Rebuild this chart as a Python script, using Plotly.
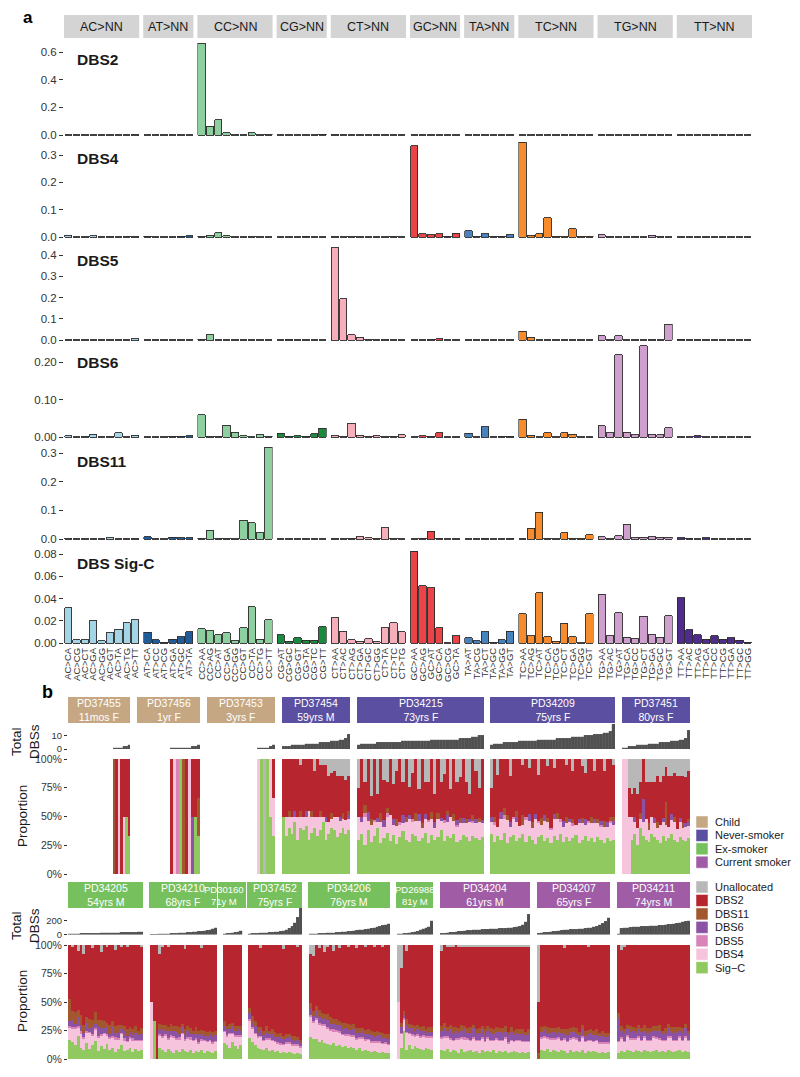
import plotly.graph_objects as go

FONT = "Liberation Sans, Arial, Helvetica, sans-serif"
# the page body has an 8px default margin; the figure is sized to fit the 800x1077 window
PAGE_MARGIN = 8
W, H = 800 - PAGE_MARGIN, 1077 - PAGE_MARGIN

# ======================= PANEL A DATA =======================
channel_groups = ["AC>NN", "AT>NN", "CC>NN", "CG>NN", "CT>NN", "GC>NN", "TA>NN", "TC>NN", "TG>NN", "TT>NN"]
channel_group_colors = ["#A3D5E6", "#1F5C99", "#8DCF9E", "#1A8A3F", "#F6AEBB",
                        "#EC4346", "#4784BF", "#F88B2B", "#CF9FCD", "#4F2B8B"]
channels = [
    "AC>CA", "AC>CG", "AC>CT", "AC>GA", "AC>GG", "AC>GT", "AC>TA", "AC>TG", "AC>TT",
    "AT>CA", "AT>CC", "AT>CG", "AT>GA", "AT>GC", "AT>TA",
    "CC>AA", "CC>AG", "CC>AT", "CC>GA", "CC>GG", "CC>GT", "CC>TA", "CC>TG", "CC>TT",
    "CG>AT", "CG>GC", "CG>GT", "CG>TA", "CG>TC", "CG>TT",
    "CT>AA", "CT>AC", "CT>AG", "CT>GA", "CT>GC", "CT>GG", "CT>TA", "CT>TC", "CT>TG",
    "GC>AA", "GC>AG", "GC>AT", "GC>CA", "GC>CG", "GC>TA",
    "TA>AT", "TA>CG", "TA>CT", "TA>GC", "TA>GG", "TA>GT",
    "TC>AA", "TC>AG", "TC>AT", "TC>CA", "TC>CG", "TC>CT", "TC>GA", "TC>GG", "TC>GT",
    "TG>AA", "TG>AC", "TG>AT", "TG>CA", "TG>CC", "TG>CT", "TG>GA", "TG>GC", "TG>GT",
    "TT>AA", "TT>AC", "TT>AG", "TT>CA", "TT>CC", "TT>CG", "TT>GA", "TT>GC", "TT>GG",
]

sig_DBS2 = [
    0.002, 0.001, 0.002, 0.002, 0.001, 0.002, 0.002, 0.001, 0.006,
    0.001, 0.001, 0.001, 0.001, 0.001, 0.002,
    0.665, 0.065, 0.109, 0.017, 0.002, 0.003, 0.016, 0.002, 0.004,
    0.002, 0.001, 0.002, 0.001, 0.003, 0.007,
    0.004, 0.002, 0.001, 0.001, 0.002, 0.001, 0.002, 0.003, 0.001,
    0.002, 0.001, 0.001, 0.002, 0.001, 0.002,
    0.001, 0.001, 0.002, 0.001, 0.001, 0.002,
    0.003, 0.002, 0.001, 0.002, 0.001, 0.002, 0.001, 0.002, 0.002,
    0.003, 0.002, 0.002, 0.001, 0.002, 0.002, 0.002, 0.001, 0.002,
    0.002, 0.001, 0.002, 0.002, 0.001, 0.002, 0.001, 0.002, 0.002,
]
sig_DBS4 = [
    0.006, 0.001, 0.001, 0.004, 0.001, 0.002, 0.001, 0.002, 0.002,
    0.002, 0.001, 0.001, 0.001, 0.002, 0.005,
    0.002, 0.006, 0.015, 0.004, 0.001, 0.001, 0.002, 0.001, 0.001,
    0.001, 0.001, 0.001, 0.002, 0.001, 0.001,
    0.002, 0.001, 0.002, 0.001, 0.001, 0.001, 0.001, 0.002, 0.001,
    0.333, 0.012, 0.009, 0.012, 0.002, 0.014,
    0.022, 0.003, 0.012, 0.002, 0.003, 0.008,
    0.347, 0.006, 0.012, 0.070, 0.002, 0.003, 0.030, 0.002, 0.003,
    0.008, 0.002, 0.001, 0.001, 0.002, 0.001, 0.007, 0.002, 0.001,
    0.001, 0.001, 0.001, 0.001, 0.001, 0.001, 0.001, 0.001, 0.001,
]
sig_DBS5 = [
    0.002, 0.001, 0.001, 0.002, 0.001, 0.001, 0.001, 0.002, 0.007,
    0.001, 0.001, 0.001, 0.001, 0.001, 0.002,
    0.003, 0.024, 0.002, 0.001, 0.001, 0.001, 0.002, 0.001, 0.002,
    0.002, 0.004, 0.001, 0.001, 0.001, 0.002,
    0.434, 0.193, 0.024, 0.014, 0.003, 0.002, 0.003, 0.002, 0.002,
    0.001, 0.002, 0.004, 0.006, 0.001, 0.001,
    0.002, 0.001, 0.002, 0.001, 0.002, 0.002,
    0.042, 0.014, 0.002, 0.001, 0.002, 0.001, 0.002, 0.001, 0.002,
    0.019, 0.002, 0.019, 0.001, 0.001, 0.001, 0.003, 0.001, 0.075,
    0.004, 0.001, 0.001, 0.001, 0.001, 0.001, 0.001, 0.001, 0.001,
]
sig_DBS6 = [
    0.003, 0.001, 0.002, 0.008, 0.001, 0.002, 0.011, 0.001, 0.005,
    0.001, 0.001, 0.001, 0.002, 0.002, 0.004,
    0.059, 0.002, 0.002, 0.032, 0.013, 0.003, 0.001, 0.006, 0.002,
    0.010, 0.002, 0.003, 0.002, 0.009, 0.024,
    0.004, 0.002, 0.037, 0.005, 0.002, 0.003, 0.002, 0.002, 0.006,
    0.001, 0.004, 0.002, 0.011, 0.001, 0.001,
    0.010, 0.001, 0.028, 0.001, 0.002, 0.002,
    0.048, 0.005, 0.001, 0.011, 0.001, 0.011, 0.008, 0.001, 0.001,
    0.030, 0.011, 0.219, 0.013, 0.006, 0.243, 0.008, 0.006, 0.025,
    0.001, 0.001, 0.003, 0.001, 0.001, 0.001, 0.001, 0.001, 0.001,
]
sig_DBS11 = [
    0.002, 0.001, 0.001, 0.001, 0.001, 0.004, 0.001, 0.001, 0.002,
    0.008, 0.001, 0.001, 0.006, 0.004, 0.004,
    0.002, 0.030, 0.002, 0.002, 0.001, 0.065, 0.057, 0.022, 0.320,
    0.001, 0.001, 0.001, 0.001, 0.001, 0.001,
    0.003, 0.001, 0.002, 0.008, 0.005, 0.002, 0.040, 0.003, 0.001,
    0.001, 0.003, 0.027, 0.002, 0.001, 0.001,
    0.001, 0.001, 0.002, 0.001, 0.001, 0.002,
    0.001, 0.038, 0.093, 0.002, 0.001, 0.021, 0.002, 0.003, 0.015,
    0.008, 0.001, 0.012, 0.052, 0.004, 0.006, 0.008, 0.006, 0.006,
    0.004, 0.002, 0.001, 0.004, 0.001, 0.001, 0.001, 0.001, 0.001,
]
sig_SigC = [
    0.0315, 0.0030, 0.0030, 0.0204, 0.0020, 0.0093, 0.0123, 0.0180, 0.0210,
    0.0095, 0.0030, 0.0005, 0.0036, 0.0054, 0.0102,
    0.0130, 0.0110, 0.0075, 0.0090, 0.0020, 0.0135, 0.0324, 0.0035, 0.0210,
    0.0072, 0.0017, 0.0045, 0.0025, 0.0025, 0.0147,
    0.0228, 0.0105, 0.0030, 0.0015, 0.0040, 0.0010, 0.0135, 0.0180, 0.0100,
    0.0826, 0.0514, 0.0498, 0.0138, 0.0002, 0.0063,
    0.0048, 0.0020, 0.0102, 0.0005, 0.0030, 0.0105,
    0.0264, 0.0063, 0.0453, 0.0054, 0.0015, 0.0177, 0.0054, 0.0003, 0.0264,
    0.0438, 0.0066, 0.0273, 0.0050, 0.0040, 0.0240, 0.0072, 0.0050, 0.0243,
    0.0408, 0.0117, 0.0075, 0.0033, 0.0066, 0.0033, 0.0045, 0.0025, 0.0008,
]
sig_labels = ["DBS2", "DBS4", "DBS5", "DBS6", "DBS11", "DBS Sig-C"]
sig_values = [sig_DBS2, sig_DBS4, sig_DBS5, sig_DBS6, sig_DBS11, sig_SigC]
sig_tickvals = [[0, 0.2, 0.4, 0.6], [0, 0.1, 0.2, 0.3], [0, 0.1, 0.2, 0.3, 0.4],
                [0, 0.1, 0.2], [0, 0.1, 0.2, 0.3], [0, 0.02, 0.04, 0.06, 0.08]]
sig_tickfmt = ["{:.1f}", "{:.1f}", "{:.1f}", "{:.2f}", "{:.1f}", "{:.2f}"]

# ======================= PANEL B DATA =======================
comp_names = ["Unallocated", "DBS2", "DBS11", "DBS6", "DBS5", "DBS4", "Sig\u2212C"]
comp_colors = ["#B8B8B8", "#B7262E", "#A3572E", "#8C52A3", "#D983B9", "#F7C4DD", "#8FC95F"]
status_names = ["Child", "Never-smoker", "Ex-smoker", "Current smoker"]
status_colors = ["#C6A783", "#5B4FA1", "#77C05E", "#A15CA6"]

row1_donors = ["PD37455", "PD37456", "PD37453", "PD37454", "PD34215", "PD34209", "PD37451"]
row1_labels = ["11mos F", "1yr F", "3yrs F", "59yrs M", "73yrs F", "75yrs F", "80yrs F"]
row1_status = [0, 0, 0, 1, 1, 1, 1]
row2_donors = ["PD34205", "PD34210", "PD30160", "PD37452", "PD34206", "PD26988", "PD34204", "PD34207", "PD34211"]
row2_labels = ["54yrs M", "68yrs F", "71y M", "75yrs F", "76yrs M", "81y M", "61yrs M", "65yrs F", "74yrs M"]
row2_status = [2, 2, 2, 2, 2, 2, 3, 3, 3]

PD37455_total = [1, 1, 1, 1, 2, 2, 3]
PD37455_unal = [0, 0, 0, 0, 0, 0, 0]
PD37455_dbs2 = [0, 100, 0, 100, 50, 50, 67]
PD37455_dbs11 = [100, 0, 0, 0, 0, 0, 0]
PD37455_dbs6 = [0, 0, 0, 0, 0, 0, 0]
PD37455_dbs5 = [0, 0, 0, 0, 0, 0, 0]
PD37455_dbs4 = [0, 0, 100, 0, 50, 0, 0]
PD37455_sigc = [0, 0, 0, 0, 0, 50, 33]

PD37456_total = [1, 1, 1, 1, 1, 1, 1, 2, 2, 3]
PD37456_unal = [0, 0, 0, 0, 0, 0, 0, 0, 0, 0]
PD37456_dbs2 = [100, 0, 0, 0, 0, 100, 0, 50, 50, 34]
PD37456_dbs11 = [0, 0, 0, 0, 100, 0, 0, 0, 0, 33]
PD37456_dbs6 = [0, 0, 0, 0, 0, 0, 0, 50, 0, 0]
PD37456_dbs5 = [0, 0, 100, 0, 0, 0, 0, 0, 0, 0]
PD37456_dbs4 = [0, 100, 0, 0, 0, 0, 100, 0, 0, 0]
PD37456_sigc = [0, 0, 0, 100, 0, 0, 0, 0, 50, 33]

PD37453_total = [1, 1, 1, 1, 2, 3]
PD37453_unal = [0, 0, 100, 0, 0, 0]
PD37453_dbs2 = [0, 0, 0, 0, 0, 34]
PD37453_dbs11 = [0, 0, 0, 0, 0, 0]
PD37453_dbs6 = [0, 0, 0, 0, 0, 0]
PD37453_dbs5 = [0, 0, 0, 0, 0, 0]
PD37453_dbs4 = [100, 0, 0, 0, 50, 33]
PD37453_sigc = [0, 100, 0, 100, 50, 33]

PD37454_total = [2, 2, 2, 3, 3, 3, 3, 3, 4, 4, 4, 4, 4, 5, 5, 5, 5, 6, 6, 6, 7, 7, 8, 11]
PD37454_unal = [0, 0, 0, 0, 0, 0, 5, 0, 0, 0, 0, 10, 0, 5, 5, 5, 15, 12, 10, 15, 15, 15, 18, 15]
PD37454_dbs2 = [50, 50, 45, 50, 45, 50, 40, 50, 45, 45, 45, 40, 50, 40, 45, 45, 40, 35, 40, 35, 35, 32, 35, 30]
PD37454_dbs11 = [0, 0, 5, 0, 0, 0, 5, 0, 0, 0, 5, 0, 0, 5, 0, 0, 0, 5, 0, 0, 0, 5, 0, 4]
PD37454_dbs6 = [0, 0, 0, 0, 5, 0, 0, 0, 5, 0, 0, 0, 0, 0, 0, 5, 0, 0, 0, 0, 4, 0, 0, 3]
PD37454_dbs5 = [0, 0, 0, 0, 0, 0, 0, 0, 0, 0, 0, 0, 0, 0, 0, 0, 0, 0, 0, 0, 0, 0, 0, 0]
PD37454_dbs4 = [0, 17, 10, 15, 5, 20, 10, 12, 8, 25, 14, 10, 17, 12, 5, 15, 10, 8, 12, 18, 10, 8, 12, 10]
PD37454_sigc = [50, 33, 40, 35, 45, 30, 40, 38, 42, 30, 36, 40, 33, 38, 45, 30, 35, 40, 38, 32, 36, 40, 35, 38]

PD34215_total = [3, 4, 4, 4, 4, 4, 5, 5, 5, 5, 5, 5, 5, 5, 6, 6, 6, 6, 6, 6,
                 6, 6, 6, 7, 7, 7, 7, 7, 7, 7, 7, 7, 8, 8, 8, 8, 9, 9, 10, 10]
PD34215_unal = [25, 0, 20, 0, 32, 0, 30, 0, 18, 20, 0, 22, 10, 0, 20, 0, 24, 12, 0, 26,
                0, 20, 20, 0, 30, 0, 20, 13, 0, 26, 0, 20, 16, 0, 20, 30, 0, 10, 25, 0]
PD34215_dbs2 = [25, 50, 20, 46, 20, 53, 21, 47, 35, 23, 49, 30, 42, 55, 29, 50, 25, 40, 47, 22,
                56, 28, 33, 46, 25, 47, 31, 40, 45, 24, 48, 33, 35, 51, 32, 22, 49, 42, 26, 53]
PD34215_dbs11 = [0, 0, 7, 0, 5, 0, 0, 8, 0, 4, 0, 0, 6, 0, 0, 5, 0, 0, 7, 0,
                 4, 0, 0, 6, 0, 5, 0, 0, 4, 0, 6, 0, 5, 0, 4, 0, 5, 0, 4, 0]
PD34215_dbs6 = [0, 5, 0, 8, 0, 0, 4, 0, 6, 0, 0, 5, 0, 0, 7, 0, 3, 0, 0, 6,
                0, 4, 0, 0, 5, 0, 3, 0, 6, 0, 0, 4, 0, 5, 0, 3, 0, 4, 0, 3]
PD34215_dbs5 = [0, 0, 3, 0, 0, 2, 0, 0, 0, 3, 0, 0, 0, 2, 0, 0, 0, 3, 0, 0,
                0, 0, 2, 0, 0, 0, 0, 3, 0, 0, 0, 2, 0, 0, 0, 0, 2, 0, 0, 0]
PD34215_dbs4 = [20, 10, 25, 8, 15, 12, 5, 18, 10, 14, 22, 9, 16, 11, 7, 15, 20, 10, 13, 17,
                9, 12, 18, 14, 10, 16, 8, 15, 12, 19, 11, 13, 14, 10, 12, 16, 11, 13, 15, 12]
PD34215_sigc = [30, 35, 25, 38, 28, 33, 40, 27, 31, 36, 29, 34, 26, 32, 37, 30, 28, 35, 33, 29,
                31, 36, 27, 34, 30, 32, 38, 29, 33, 31, 35, 28, 30, 34, 32, 29, 33, 31, 30, 32]

PD34209_total = [3, 4, 4, 4, 5, 5, 5, 5, 5, 6, 6, 6, 6, 6, 6, 7, 7, 7, 7, 7,
                 7, 8, 8, 8, 8, 8, 9, 9, 9, 9, 10, 10, 10, 11, 11, 11, 12, 12, 13, 19]
PD34209_unal = [25, 0, 14, 0, 0, 0, 15, 0, 0, 0, 5, 0, 8, 0, 0, 14, 0, 0, 6, 0,
                8, 0, 0, 0, 5, 0, 10, 0, 0, 6, 12, 0, 0, 10, 0, 0, 10, 0, 0, 5]
PD34209_dbs2 = [25, 50, 45, 46, 43, 49, 40, 50, 45, 58, 44, 50, 40, 55, 48, 40, 51, 49, 45, 60,
                40, 47, 52, 54, 45, 52, 42, 57, 52, 45, 40, 54, 50, 42, 52, 54, 44, 55, 50, 45]
PD34209_dbs11 = [0, 5, 0, 0, 6, 4, 0, 0, 5, 0, 8, 0, 0, 5, 0, 0, 6, 0, 4, 0,
                 0, 5, 0, 0, 6, 0, 4, 0, 0, 5, 0, 0, 6, 0, 4, 0, 5, 0, 4, 4]
PD34209_dbs6 = [5, 0, 0, 6, 0, 0, 4, 0, 5, 0, 0, 0, 6, 0, 4, 0, 0, 5, 0, 0,
                4, 0, 0, 5, 0, 3, 0, 0, 4, 0, 5, 0, 0, 4, 0, 3, 0, 4, 0, 3]
PD34209_dbs5 = [0, 2, 0, 0, 3, 0, 0, 2, 0, 0, 0, 3, 0, 0, 0, 2, 0, 0, 0, 2,
                0, 0, 3, 0, 0, 0, 2, 0, 0, 0, 0, 2, 0, 0, 0, 2, 0, 0, 2, 0]
PD34209_dbs4 = [10, 15, 8, 18, 12, 20, 9, 14, 16, 11, 8, 19, 13, 10, 22, 12, 9, 17, 14, 11,
                15, 18, 10, 13, 12, 16, 11, 9, 17, 14, 10, 15, 13, 16, 12, 11, 14, 10, 15, 13]
PD34209_sigc = [35, 28, 33, 30, 36, 27, 32, 34, 29, 31, 35, 28, 33, 30, 26, 32, 34, 29, 31, 27,
                33, 30, 35, 28, 32, 29, 31, 34, 27, 30, 33, 29, 31, 28, 32, 30, 27, 31, 29, 30]

PD37451_total = [1, 1, 2, 2, 2, 3, 3, 3, 3, 4, 4, 4, 4, 5, 5, 5, 5, 6, 6, 6, 7, 7, 8, 14]
PD37451_unal = [0, 0, 25, 30, 25, 30, 20, 0, 20, 20, 20, 20, 15, 20, 15, 7, 15, 15, 12, 15, 15, 15, 16, 10]
PD37451_dbs2 = [0, 0, 25, 20, 25, 30, 27, 35, 32, 36, 30, 31, 40, 37, 36, 30, 44, 33, 38, 46, 36, 41, 40, 42]
PD37451_dbs11 = [0, 0, 0, 0, 0, 0, 5, 0, 0, 6, 0, 0, 5, 0, 0, 20, 0, 0, 5, 0, 0, 4, 0, 3]
PD37451_dbs6 = [0, 0, 0, 0, 5, 0, 0, 20, 0, 0, 0, 5, 0, 0, 4, 0, 0, 5, 0, 0, 4, 0, 3, 3]
PD37451_dbs5 = [0, 0, 0, 0, 0, 0, 0, 0, 0, 0, 0, 0, 0, 0, 0, 0, 0, 0, 0, 0, 0, 0, 0, 0]
PD37451_dbs4 = [100, 100, 50, 20, 10, 15, 8, 12, 18, 10, 15, 12, 10, 16, 12, 14, 10, 12, 15, 11, 13, 10, 12, 11]
PD37451_sigc = [0, 0, 0, 30, 35, 25, 40, 33, 30, 28, 35, 32, 30, 27, 33, 29, 31, 35, 30, 28, 32, 30, 29, 31]

PD34205_total = [10, 12, 13, 14, 15, 16, 17, 18, 19, 20, 21, 22, 23, 24, 25, 26, 27, 28, 29, 30, 31, 32, 33, 35, 38, 42]
PD34205_unal = [0, 2, 0, 5, 0, 8, 0, 0, 3, 0, 0, 6, 0, 2, 0, 0, 4, 0, 1, 0, 1, 0, 0, 0, 0, 1]
PD34205_dbs2 = [47, 56, 59, 52, 61, 62, 63, 65, 63, 59, 66, 60, 67, 66, 70, 67, 67, 70, 69, 70, 73, 72, 74, 71, 75, 72]
PD34205_dbs11 = [20, 8, 10, 6, 9, 7, 5, 8, 6, 10, 5, 7, 6, 4, 8, 5, 6, 7, 4, 5, 6, 4, 5, 6, 4, 5]
PD34205_dbs6 = [4, 6, 3, 8, 5, 4, 7, 3, 6, 4, 9, 5, 4, 6, 3, 8, 4, 5, 3, 6, 4, 5, 3, 6, 4, 5]
PD34205_dbs5 = [2, 1, 2, 1, 3, 1, 2, 1, 2, 1, 1, 2, 1, 2, 1, 1, 2, 1, 1, 2, 1, 1, 2, 1, 1, 1]
PD34205_dbs4 = [10, 12, 14, 8, 12, 10, 9, 14, 8, 10, 12, 9, 13, 7, 10, 9, 11, 8, 10, 9, 7, 8, 10, 7, 9, 8]
PD34205_sigc = [17, 15, 12, 20, 10, 8, 14, 9, 12, 16, 7, 11, 9, 13, 8, 10, 6, 9, 12, 7, 8, 10, 6, 9, 7, 8]

PD34210_total = [2, 3, 5, 8, 10, 12, 14, 16, 18, 20, 22, 25, 28, 30, 33, 36, 40, 45, 50, 55, 62, 70, 80, 100]
PD34210_unal = [0, 0, 0, 8, 2, 0, 2, 0, 0, 0, 0, 0, 4, 0, 0, 0, 0, 0, 3, 0, 0, 0, 0, 0]
PD34210_dbs2 = [50, 67, 100, 65, 68, 70, 70, 69, 71, 71, 72, 69, 73, 71, 73, 75, 72, 75, 74, 75, 76, 75, 76, 75]
PD34210_dbs11 = [0, 0, 0, 6, 4, 5, 3, 6, 4, 5, 6, 3, 5, 4, 5, 3, 6, 4, 3, 5, 4, 3, 5, 4]
PD34210_dbs6 = [0, 0, 0, 4, 6, 3, 7, 4, 5, 6, 3, 5, 4, 6, 3, 5, 4, 6, 5, 3, 4, 5, 4, 5]
PD34210_dbs5 = [0, 0, 0, 1, 2, 1, 1, 2, 1, 1, 2, 1, 1, 1, 2, 1, 1, 1, 1, 1, 1, 1, 1, 1]
PD34210_dbs4 = [50, 0, 0, 12, 10, 15, 8, 12, 14, 9, 11, 13, 10, 12, 9, 11, 10, 8, 9, 11, 8, 10, 9, 8]
PD34210_sigc = [0, 33, 0, 10, 8, 6, 9, 7, 5, 8, 6, 9, 7, 6, 8, 5, 7, 6, 8, 5, 7, 6, 5, 7]

PD30160_total = [10, 15, 20, 25, 30, 40, 55]
PD30160_unal = [0, 0, 0, 0, 0, 0, 0]
PD30160_dbs2 = [67, 71, 69, 68, 71, 71, 71]
PD30160_dbs11 = [4, 3, 5, 3, 4, 3, 4]
PD30160_dbs6 = [4, 5, 3, 6, 4, 5, 4]
PD30160_dbs5 = [1, 1, 1, 1, 1, 1, 1]
PD30160_dbs4 = [10, 8, 12, 7, 9, 11, 8]
PD30160_sigc = [14, 12, 10, 15, 11, 9, 12]

PD37452_total = [12, 15, 18, 20, 22, 25, 28, 30, 33, 36, 40, 45, 55, 70, 90, 120, 170, 250, 380]
PD37452_unal = [0, 0, 0, 0, 3, 0, 0, 0, 0, 0, 0, 0, 4, 0, 0, 0, 0, 2, 0]
PD37452_dbs2 = [55, 62, 67, 72, 71, 75, 71, 75, 74, 76, 78, 77, 79, 78, 78, 80, 80, 80, 83]
PD37452_dbs11 = [5, 6, 4, 5, 3, 4, 5, 3, 4, 5, 3, 4, 3, 4, 3, 3, 4, 3, 3]
PD37452_dbs6 = [5, 4, 6, 3, 5, 4, 6, 4, 5, 3, 4, 5, 4, 3, 4, 4, 3, 4, 3]
PD37452_dbs5 = [2, 1, 1, 1, 1, 1, 1, 1, 1, 1, 1, 1, 1, 1, 1, 1, 1, 1, 1]
PD37452_dbs4 = [15, 12, 10, 9, 11, 8, 7, 10, 8, 9, 7, 8, 7, 9, 8, 7, 8, 7, 6]
PD37452_sigc = [18, 15, 12, 10, 9, 8, 10, 7, 8, 6, 7, 5, 6, 5, 6, 5, 4, 5, 4]

PD34206_total = [10, 12, 14, 16, 18, 20, 22, 25, 28, 30, 33, 36, 40, 45, 50, 55, 60, 65, 70, 75,
                 80, 90, 100, 110, 120, 130, 140, 155]
PD34206_unal = [8, 10, 0, 3, 0, 6, 2, 0, 5, 0, 3, 0, 0, 2, 0, 0, 3, 0, 0, 2, 0, 0, 1, 0, 0, 1, 0, 0]
PD34206_dbs2 = [44, 50, 51, 53, 57, 55, 57, 60, 60, 62, 62, 65, 66, 65, 67, 66, 68, 69, 69, 70,
                71, 72, 73, 72, 73, 74, 75, 75]
PD34206_dbs11 = [6, 5, 4, 6, 5, 4, 5, 6, 4, 5, 4, 5, 4, 5, 4, 4, 5, 4, 3, 4, 4, 3, 4, 4, 3, 4, 3, 4]
PD34206_dbs6 = [5, 4, 6, 5, 4, 5, 6, 4, 5, 4, 5, 4, 5, 4, 4, 5, 4, 4, 5, 4, 4, 5, 4, 4, 5, 4, 4, 4]
PD34206_dbs5 = [2, 2, 1, 2, 1, 2, 1, 1, 2, 1, 1, 1, 1, 1, 1, 1, 1, 1, 1, 1, 1, 1, 1, 1, 1, 1, 1, 1]
PD34206_dbs4 = [18, 15, 16, 14, 12, 15, 13, 12, 10, 12, 11, 10, 9, 11, 9, 10, 9, 8, 10, 8, 9, 8, 7, 8, 9, 7, 8, 7]
PD34206_sigc = [20, 18, 17, 15, 16, 14, 13, 12, 14, 11, 12, 10, 11, 9, 10, 9, 8, 9, 7, 8, 7, 6, 7, 6, 5, 6, 5, 5]

PD26988_total = [8, 10, 15, 20, 25, 30, 40, 50, 65, 80, 95, 110, 200]
PD26988_unal = [50, 20, 0, 5, 0, 0, 0, 0, 0, 0, 0, 0, 0]
PD26988_dbs2 = [0, 48, 58, 60, 69, 70, 71, 70, 72, 71, 74, 72, 73]
PD26988_dbs11 = [0, 4, 3, 5, 4, 3, 5, 4, 3, 4, 3, 4, 4]
PD26988_dbs6 = [0, 5, 3, 6, 4, 5, 3, 4, 5, 4, 3, 4, 4]
PD26988_dbs5 = [0, 1, 1, 1, 1, 1, 1, 1, 1, 1, 1, 1, 1]
PD26988_dbs4 = [50, 12, 10, 15, 10, 12, 9, 11, 10, 12, 9, 10, 11]
PD26988_sigc = [0, 10, 25, 8, 12, 9, 11, 10, 9, 8, 10, 9, 8]

PD34204_total = [15, 20, 25, 30, 35, 40, 45, 50, 55, 60, 62, 65, 68, 70, 72, 75, 78, 80, 82, 85,
                 88, 90, 92, 95, 100, 105, 110, 120, 140, 180, 290]
PD34204_unal = [5, 0, 2, 2, 2, 0, 2, 2, 2, 2, 1, 2, 2, 2, 1, 2, 1, 1, 1, 2, 1, 1, 1, 2, 2, 1, 1, 1, 1, 1, 1]
PD34204_dbs2 = [66, 68, 70, 68, 70, 72, 71, 68, 69, 71, 71, 68, 72, 71, 70, 72, 70, 72, 73, 70,
                72, 72, 70, 74, 70, 74, 73, 73, 73, 75, 73]
PD34204_dbs11 = [4, 5, 3, 4, 5, 3, 4, 5, 3, 4, 5, 3, 4, 4, 3, 5, 4, 3, 4, 4, 3, 4, 5, 3, 4, 4, 3, 4, 4, 3, 4]
PD34204_dbs6 = [6, 7, 5, 8, 6, 7, 5, 6, 7, 5, 6, 8, 5, 6, 7, 5, 6, 7, 5, 6, 7, 6, 5, 6, 7, 5, 6, 5, 6, 5, 6]
PD34204_dbs5 = [1, 1, 2, 1, 1, 1, 1, 1, 2, 1, 1, 1, 1, 1, 1, 1, 1, 1, 1, 1, 1, 1, 1, 1, 1, 1, 1, 1, 1, 1, 1]
PD34204_dbs4 = [10, 12, 9, 11, 8, 10, 12, 9, 11, 10, 8, 12, 9, 11, 10, 9, 11, 10, 8, 12, 9, 10, 11, 9, 10, 8, 10, 11, 9, 10, 9]
PD34204_sigc = [8, 7, 9, 6, 8, 7, 5, 9, 6, 7, 8, 6, 7, 5, 8, 6, 7, 6, 8, 5, 7, 6, 7, 5, 6, 7, 6, 5, 6, 5, 6]

PD34207_total = [20, 25, 30, 35, 40, 45, 50, 55, 60, 65, 70, 72, 75, 78, 80, 85, 90, 95, 100, 110, 120, 140, 160, 190, 240]
PD34207_unal = [50, 0, 0, 0, 0, 0, 0, 0, 0, 3, 0, 0, 0, 0, 0, 0, 0, 2, 0, 0, 0, 0, 0, 0, 0]
PD34207_dbs2 = [45, 72, 71, 72, 73, 73, 73, 72, 74, 73, 74, 73, 72, 73, 76, 70, 75, 73, 74, 75, 74, 77, 75, 77, 77]
PD34207_dbs11 = [5, 4, 3, 5, 4, 3, 5, 4, 3, 4, 5, 3, 4, 5, 3, 4, 5, 4, 3, 4, 5, 3, 4, 4, 3]
PD34207_dbs6 = [0, 5, 6, 4, 5, 6, 4, 5, 6, 4, 5, 6, 5, 4, 5, 6, 4, 5, 6, 5, 4, 5, 6, 4, 5]
PD34207_dbs5 = [0, 1, 1, 1, 1, 1, 1, 1, 1, 1, 1, 1, 1, 1, 1, 1, 1, 1, 1, 1, 1, 1, 1, 1, 1]
PD34207_dbs4 = [0, 10, 12, 9, 11, 9, 10, 12, 8, 11, 10, 9, 12, 10, 9, 11, 10, 9, 10, 8, 10, 9, 8, 9, 8]
PD34207_sigc = [0, 8, 7, 9, 6, 8, 7, 6, 8, 7, 5, 8, 6, 7, 6, 8, 5, 7, 6, 7, 6, 5, 6, 5, 6]

PD34211_total = [10, 90, 95, 100, 105, 108, 110, 112, 115, 118, 120, 122, 125, 128, 130, 135, 140, 145, 150, 155,
                 160, 170, 180, 190, 200]
PD34211_unal = [0, 4, 2, 0, 0, 0, 0, 0, 0, 0, 0, 0, 0, 0, 0, 0, 0, 0, 0, 0, 0, 0, 0, 0, 0]
PD34211_dbs2 = [60, 67, 72, 70, 71, 72, 73, 70, 73, 70, 73, 73, 71, 71, 70, 75, 73, 69, 72, 72, 72, 72, 73, 69, 75]
PD34211_dbs11 = [4, 4, 3, 4, 5, 3, 4, 4, 3, 5, 4, 3, 4, 4, 5, 3, 4, 4, 3, 5, 4, 3, 4, 4, 3]
PD34211_dbs6 = [20, 6, 7, 5, 6, 7, 5, 6, 7, 5, 6, 7, 5, 6, 7, 5, 6, 7, 5, 6, 7, 5, 6, 7, 5]
PD34211_dbs5 = [1, 1, 1, 1, 1, 1, 1, 1, 1, 1, 1, 1, 1, 1, 1, 1, 1, 1, 1, 1, 1, 1, 1, 1, 1]
PD34211_dbs4 = [10, 11, 9, 12, 10, 11, 9, 12, 10, 11, 9, 10, 12, 10, 11, 9, 10, 11, 12, 10, 9, 11, 10, 12, 10]
PD34211_sigc = [5, 7, 6, 8, 7, 6, 8, 7, 6, 8, 7, 6, 7, 8, 6, 7, 6, 8, 7, 6, 7, 8, 6, 7, 6]

donor_data = {
    "PD37455": (PD37455_total, [PD37455_unal, PD37455_dbs2, PD37455_dbs11, PD37455_dbs6, PD37455_dbs5, PD37455_dbs4, PD37455_sigc]),
    "PD37456": (PD37456_total, [PD37456_unal, PD37456_dbs2, PD37456_dbs11, PD37456_dbs6, PD37456_dbs5, PD37456_dbs4, PD37456_sigc]),
    "PD37453": (PD37453_total, [PD37453_unal, PD37453_dbs2, PD37453_dbs11, PD37453_dbs6, PD37453_dbs5, PD37453_dbs4, PD37453_sigc]),
    "PD37454": (PD37454_total, [PD37454_unal, PD37454_dbs2, PD37454_dbs11, PD37454_dbs6, PD37454_dbs5, PD37454_dbs4, PD37454_sigc]),
    "PD34215": (PD34215_total, [PD34215_unal, PD34215_dbs2, PD34215_dbs11, PD34215_dbs6, PD34215_dbs5, PD34215_dbs4, PD34215_sigc]),
    "PD34209": (PD34209_total, [PD34209_unal, PD34209_dbs2, PD34209_dbs11, PD34209_dbs6, PD34209_dbs5, PD34209_dbs4, PD34209_sigc]),
    "PD37451": (PD37451_total, [PD37451_unal, PD37451_dbs2, PD37451_dbs11, PD37451_dbs6, PD37451_dbs5, PD37451_dbs4, PD37451_sigc]),
    "PD34205": (PD34205_total, [PD34205_unal, PD34205_dbs2, PD34205_dbs11, PD34205_dbs6, PD34205_dbs5, PD34205_dbs4, PD34205_sigc]),
    "PD34210": (PD34210_total, [PD34210_unal, PD34210_dbs2, PD34210_dbs11, PD34210_dbs6, PD34210_dbs5, PD34210_dbs4, PD34210_sigc]),
    "PD30160": (PD30160_total, [PD30160_unal, PD30160_dbs2, PD30160_dbs11, PD30160_dbs6, PD30160_dbs5, PD30160_dbs4, PD30160_sigc]),
    "PD37452": (PD37452_total, [PD37452_unal, PD37452_dbs2, PD37452_dbs11, PD37452_dbs6, PD37452_dbs5, PD37452_dbs4, PD37452_sigc]),
    "PD34206": (PD34206_total, [PD34206_unal, PD34206_dbs2, PD34206_dbs11, PD34206_dbs6, PD34206_dbs5, PD34206_dbs4, PD34206_sigc]),
    "PD26988": (PD26988_total, [PD26988_unal, PD26988_dbs2, PD26988_dbs11, PD26988_dbs6, PD26988_dbs5, PD26988_dbs4, PD26988_sigc]),
    "PD34204": (PD34204_total, [PD34204_unal, PD34204_dbs2, PD34204_dbs11, PD34204_dbs6, PD34204_dbs5, PD34204_dbs4, PD34204_sigc]),
    "PD34207": (PD34207_total, [PD34207_unal, PD34207_dbs2, PD34207_dbs11, PD34207_dbs6, PD34207_dbs5, PD34207_dbs4, PD34207_sigc]),
    "PD34211": (PD34211_total, [PD34211_unal, PD34211_dbs2, PD34211_dbs11, PD34211_dbs6, PD34211_dbs5, PD34211_dbs4, PD34211_sigc]),
}

# ======================= LAYOUT PARAMETERS (window pixels) =======================
row1_strip_px = [(68, 130), (137, 200), (207, 275), (282, 350), (357, 484), (490, 615), (622, 690)]
row1_bars_px = [(113, 130), (170, 200), (257, 275), (282, 350), (357, 484), (490, 615), (622, 690)]
row2_strip_px = [(68, 143), (149, 217), (218, 246), (247, 302), (308, 390), (396, 433), (440, 530), (537, 610), (617, 690)]
row2_bars_px = [(68, 143), (150, 217), (223, 242), (248, 302), (309, 390), (397, 433), (440, 530), (537, 610), (617, 690)]

# panel a rows: (top, bottom, zero_px, ref_value, ref_px, label_y)
rows_a_px = [(40, 137, 135, 0.6, 52, 60), (141, 239, 237, 0.3, 155, 159), (243, 342, 340, 0.4, 255, 260),
             (345, 439, 437, 0.2, 362, 362), (443, 541, 539, 0.3, 453, 462), (546, 645, 643, 0.08, 554, 563)]


def fx(px):
    return (px - PAGE_MARGIN) / W


def fy(py):
    return 1 - (py - PAGE_MARGIN) / H


def xid(k):
    return "x" if k == 1 else f"x{k}"


def yid(k):
    return "y" if k == 1 else f"y{k}"


def xkey(k):
    return "xaxis" if k == 1 else f"xaxis{k}"


def ykey(k):
    return "yaxis" if k == 1 else f"yaxis{k}"


fig = go.Figure()
layout = {}
shapes = []
annotations = []
TXT = "#333333"

# ---------------- Panel A ----------------
counts = [sum(1 for c in channels if c[:2] == g[:2]) for g in channel_groups]
xa0, xa1, gap = 64.0, 752.0, 4.0
unit = (xa1 - xa0 - gap * (len(channel_groups) - 1)) / sum(counts)
cur = xa0
col_domains = []
for n in counts:
    col_domains.append((cur, cur + n * unit))
    cur += n * unit + gap

for ci, g in enumerate(channel_groups):
    k = ci + 1
    cats = [c for c in channels if c[:2] == g[:2]]
    d0, d1 = col_domains[ci]
    layout[xkey(k)] = dict(
        domain=[fx(d0), fx(d1)], anchor="y6", type="category",
        categoryorder="array", categoryarray=cats, range=[-0.5, len(cats) - 0.5],
        tickmode="array", tickvals=cats, ticktext=cats, tickangle=-90,
        tickfont=dict(size=9.5, color=TXT, family=FONT), ticks="", showgrid=False,
        zeroline=False, showline=False, fixedrange=True,
    )
    shapes.append(dict(type="rect", xref=f"{xid(k)} domain", x0=0, x1=1, yref="paper",
                       y0=fy(38), y1=fy(15), fillcolor="#D4D4D4", line=dict(width=0), layer="below"))
    annotations.append(dict(xref=f"{xid(k)} domain", x=0.5, yref="paper", y=fy(26.5), text=g,
                            showarrow=False, font=dict(size=12.5, color="#1a1a1a", family=FONT),
                            xanchor="center", yanchor="middle"))

for ri, (top, bot, zpx, rv, rpx, laby) in enumerate(rows_a_px):
    k = ri + 1
    scale = (zpx - rpx) / rv
    layout[ykey(k)] = dict(
        domain=[fy(bot), fy(top)], anchor="x", range=[(zpx - bot) / scale, (zpx - top) / scale],
        tickmode="array", tickvals=sig_tickvals[ri],
        ticktext=[sig_tickfmt[ri].format(v) for v in sig_tickvals[ri]],
        ticks="outside", ticklen=4, tickwidth=1, tickcolor=TXT,
        tickfont=dict(size=11.5, color=TXT, family=FONT),
        showgrid=False, zeroline=False, showline=False, fixedrange=True,
    )
    vals = sig_values[ri]
    for ci, g in enumerate(channel_groups):
        idx = [i for i, c in enumerate(channels) if c[:2] == g[:2]]
        fig.add_trace(go.Bar(
            x=[channels[i] for i in idx], y=[vals[i] for i in idx],
            xaxis=xid(ci + 1), yaxis=yid(k),
            marker=dict(color=channel_group_colors[ci], line=dict(color="#2b2b2b", width=0.9)),
            showlegend=False, hoverinfo="skip",
        ))
    annotations.append(dict(xref="paper", yref="paper", x=fx(75), y=fy(laby), text=f"<b>{sig_labels[ri]}</b>",
                            showarrow=False, xanchor="left", yanchor="middle",
                            font=dict(size=15.5, color="#1a1a1a", family=FONT)))

# ---------------- Panel B ----------------
ax_next = len(channel_groups) + 1
panel_b_rows = [
    (row1_donors, row1_labels, row1_status, row1_strip_px, row1_bars_px, 7, 8, (697, 723)),
    (row2_donors, row2_labels, row2_status, row2_strip_px, row2_bars_px, 9, 10, (882, 908)),
]
y_specs = {
    7: dict(dom=(724, 749), rng=[0, 18.5], tv=[0, 10], tt=["0", "10"]),
    8: dict(dom=(759, 874), rng=[0, 1], tv=[0, 0.25, 0.5, 0.75, 1], tt=["0%", "25%", "50%", "75%", "100%"]),
    9: dict(dom=(908, 934.5), rng=[0, 380], tv=[0, 200], tt=["0", "200"]),
    10: dict(dom=(945, 1059), rng=[0, 1], tv=[0, 0.25, 0.5, 0.75, 1], tt=["0%", "25%", "50%", "75%", "100%"]),
}
BAR_W = 1.0

for donors, labels, status, strip_px, bars_px, ytot, yprop, (sy0, sy1) in panel_b_rows:
    first_ax = ax_next
    for gi, donor in enumerate(donors):
        k = ax_next
        ax_next += 1
        totals, comps = donor_data[donor]
        n = len(totals)
        s0, s1 = strip_px[gi]
        b0, b1 = bars_px[gi]
        w = (b1 - b0) / n
        layout[xkey(k)] = dict(
            domain=[fx(s0), fx(s1)], anchor=yid(yprop), type="linear",
            range=[-0.5 - (b0 - s0) / w, n - 0.5 + (s1 - b1) / w],
            showticklabels=False, ticks="", showgrid=False, zeroline=False, showline=False, fixedrange=True,
        )
        idx = list(range(n))
        fig.add_trace(go.Bar(x=idx, y=totals, xaxis=xid(k), yaxis=yid(ytot), width=BAR_W,
                             marker=dict(color="#505050", line=dict(color="#6a6a6a", width=0.25)),
                             showlegend=False, hoverinfo="skip"))
        sums = [sum(c[i] for c in comps) for i in range(n)]
        # stack from bottom: Sig-C, DBS4, DBS5, DBS6, DBS11, DBS2, Unallocated
        for cj in reversed(range(len(comp_names))):
            vals = [comps[cj][i] / sums[i] if sums[i] else 0 for i in range(n)]
            fig.add_trace(go.Bar(x=idx, y=vals, xaxis=xid(k), yaxis=yid(yprop), width=BAR_W,
                                 marker=dict(color=comp_colors[cj], line=dict(width=0)),
                                 showlegend=False, hoverinfo="skip"))
        shapes.append(dict(type="rect", xref=f"{xid(k)} domain", x0=0, x1=1, yref="paper",
                           y0=fy(sy1), y1=fy(sy0), fillcolor=status_colors[status[gi]],
                           line=dict(width=0), layer="below"))
        narrow = (s1 - s0) < 45
        annotations.append(dict(
            xref=f"{xid(k)} domain", x=(1 if donor == "PD30160" else 0.5), yref="paper", y=fy((sy0 + sy1) / 2),
            text=f"{donor}<br>{labels[gi]}", showarrow=False,
            xanchor=("right" if donor == "PD30160" else "center"), yanchor="middle",
            font=dict(size=(9.5 if narrow else 10.5), color="white", family=FONT)))
    for yk in (ytot, yprop):
        sp = y_specs[yk]
        layout[ykey(yk)] = dict(
            domain=[fy(sp["dom"][1]), fy(sp["dom"][0])], anchor=xid(first_ax), range=sp["rng"],
            tickmode="array", tickvals=sp["tv"], ticktext=sp["tt"],
            ticks="outside", ticklen=3, tickwidth=1, tickcolor=TXT,
            tickfont=dict(size=(9.5 if yk in (7, 9) else 10.5), color=TXT, family=FONT),
            showgrid=False, zeroline=False, showline=False, fixedrange=True,
        )

# axis titles panel b
for cy in (742, 926):
    annotations.append(dict(xref="paper", yref="paper", x=fx(25), y=fy(cy), text="Total<br>DBSs",
                            textangle=-90, showarrow=False, xanchor="center", yanchor="middle",
                            font=dict(size=13.5, color="#1a1a1a", family=FONT)))
for cy in (816, 1001):
    annotations.append(dict(xref="paper", yref="paper", x=fx(22), y=fy(cy), text="Proportion",
                            textangle=-90, showarrow=False, xanchor="center", yanchor="middle",
                            font=dict(size=13.5, color="#1a1a1a", family=FONT)))

# panel letters
annotations.append(dict(xref="paper", yref="paper", x=fx(28), y=fy(17), text="<b>a</b>", showarrow=False,
                        xanchor="center", yanchor="middle", font=dict(size=17, color="black", family=FONT)))
annotations.append(dict(xref="paper", yref="paper", x=fx(47), y=fy(692), text="<b>b</b>", showarrow=False,
                        xanchor="center", yanchor="middle", font=dict(size=18, color="black", family=FONT)))

# legends (drawn manually to match the compact spacing)
legend_x0, legend_x1, text_x = 696, 708, 713
for i, (nm, col) in enumerate(zip(status_names, status_colors)):
    cy = 822 + i * 13.4
    shapes.append(dict(type="rect", xref="paper", yref="paper", x0=fx(legend_x0), x1=fx(legend_x1),
                       y0=fy(cy + 6), y1=fy(cy - 6), fillcolor=col, line=dict(color="white", width=0.5)))
    annotations.append(dict(xref="paper", yref="paper", x=fx(text_x), y=fy(cy), text=nm, showarrow=False,
                            xanchor="left", yanchor="middle", font=dict(size=11, color="#1a1a1a", family=FONT)))
for i, (nm, col) in enumerate(zip(comp_names, comp_colors)):
    cy = 887 + i * 13.45
    shapes.append(dict(type="rect", xref="paper", yref="paper", x0=fx(legend_x0), x1=fx(legend_x1),
                       y0=fy(cy + 6), y1=fy(cy - 6), fillcolor=col, line=dict(color="white", width=0.5)))
    annotations.append(dict(xref="paper", yref="paper", x=fx(text_x), y=fy(cy), text=nm, showarrow=False,
                            xanchor="left", yanchor="middle", font=dict(size=11, color="#1a1a1a", family=FONT)))

fig.update_layout(
    width=W, height=H, margin=dict(l=0, r=0, t=0, b=0, autoexpand=False),
    paper_bgcolor="white", plot_bgcolor="white",
    barmode="stack", bargap=0.12, showlegend=False, hovermode=False,
    font=dict(family=FONT, color=TXT),
    shapes=shapes, annotations=annotations, **layout,
)
fig.write_html("out.html")
